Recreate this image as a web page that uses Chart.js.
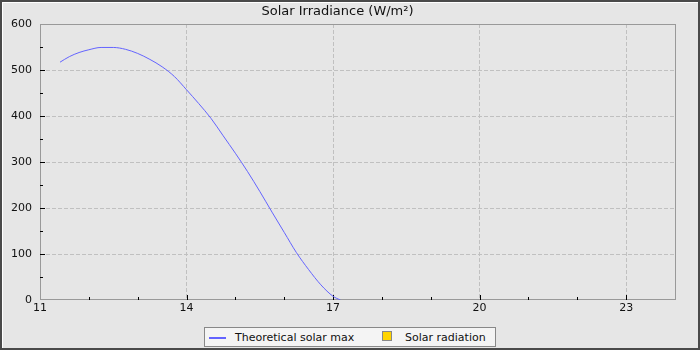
<!DOCTYPE html>
<html>
<head>
<meta charset="utf-8">
<script src="https://cdn.jsdelivr.net/npm/chart.js@4"></script>
<style>
  html, body { margin: 0; padding: 0; background: #e6e6e6; }
  #wrap { position: relative; width: 700px; height: 350px; }
  #legend {
    position: absolute; left: 204px; top: 327px; width: 290px; height: 18px;
    background: #f4f4f4; border: 1px solid #888;
    font: 11px "DejaVu Sans", sans-serif; color: #111;
  }
  #legend span { position: absolute; }
</style>
</head>
<body>
<div id="wrap">
  <canvas id="chart" width="700" height="350"></canvas>
  <div id="legend"></div>
</div>
<script>
// hours of the day (decimal) and theoretical max irradiance in W/m²
const hours = [11.41, 11.6, 11.8, 12.0, 12.25, 12.5, 12.75, 13.0, 13.25, 13.5, 13.75, 14.0,
               14.25, 14.5, 14.75, 15.0, 15.25, 15.5, 15.75, 16.0, 16.25, 16.5, 16.75, 17.0, 17.15];
const theoreticalMax = [517, 529, 538, 544, 549, 549, 545, 536, 523, 507, 486, 457,
                        427, 395, 357, 319, 279, 236, 191, 147, 103, 66, 33, 8, 0];
const solarRadiation = []; // no measurements in this window

const xTickLabels = ['11', '14', '17', '20', '23'];

const lineColor = '#6464ff';
const barColor = '#ffd400';

const chartFrame = {
    id: 'chartFrame',
    beforeDraw(chart) {
        const ctx = chart.ctx;
        ctx.save();
        ctx.fillStyle = '#4a4a4a';
        ctx.fillRect(0, 0, chart.width, chart.height);
        ctx.fillStyle = '#ffffff';
        ctx.fillRect(2, 2, chart.width - 4, chart.height - 4);
        ctx.fillStyle = '#e6e6e6';
        ctx.fillRect(3, 3, chart.width - 5, chart.height - 5);
        ctx.restore();
    },
    beforeDatasetsDraw(chart) {
        const ctx = chart.ctx;
        const a = chart.chartArea;
        const xs = chart.scales.x, ys = chart.scales.y;
        ctx.save();
        // plot outline
        ctx.strokeStyle = '#999999';
        ctx.lineWidth = 1;
        ctx.strokeRect(a.left + 0.5, a.top + 0.5, a.right - a.left, a.bottom - a.top - 1);
        // tick marks point inward
        ctx.strokeStyle = '#000000';
        ctx.beginPath();
        xs.ticks.forEach(t => {
            if (t.value <= xs.min || t.value >= xs.max) return;
            const px = Math.round(xs.getPixelForValue(t.value)) + 0.5;
            const len = t.label ? 5 : 3;
            ctx.moveTo(px, a.bottom);
            ctx.lineTo(px, a.bottom - len);
        });
        ys.ticks.forEach(t => {
            if (t.value <= ys.min || t.value >= ys.max) return;
            const py = Math.round(ys.getPixelForValue(t.value)) + 0.5;
            const len = t.value % 100 === 0 ? 5 : 3;
            ctx.moveTo(a.left, py);
            ctx.lineTo(a.left + len, py);
        });
        ctx.stroke();
        ctx.restore();
    }
};

new Chart(document.getElementById('chart'), {
    data: {
        datasets: [{
            type: 'line',
            label: 'Theoretical solar max',
            data: hours.map((h, i) => ({ x: h, y: theoreticalMax[i] })),
            borderColor: lineColor,
            borderWidth: 1,
            pointRadius: 0,
            cubicInterpolationMode: 'monotone',
            fill: false
        }, {
            type: 'bar',
            label: 'Solar radiation',
            data: solarRadiation,
            backgroundColor: barColor,
            borderColor: '#888888',
            borderWidth: 1
        }]
    },
    options: {
        responsive: false,
        animation: false,
        layout: { padding: { right: 25 } },
        plugins: {
            legend: { display: false },
            tooltip: { enabled: false },
            title: {
                display: true,
                text: 'Solar Irradiance (W/m²)',
                color: '#111',
                font: { family: 'DejaVu Sans', size: 13, weight: 'normal' },
                padding: { top: 4, bottom: 4.4 }
            }
        },
        scales: {
            x: {
                type: 'linear',
                min: 11,
                max: 24,
                offset: false,
                afterFit: s => { s.height = 50; },
                ticks: {
                    stepSize: 1,
                    autoSkip: false,
                    maxRotation: 0,
                    padding: 2,
                    color: '#111',
                    font: { family: 'DejaVu Sans', size: 11 },
                    callback: v => xTickLabels.includes(String(v)) ? String(v) : ''
                },
                grid: {
                    offset: false,
                    drawTicks: false,
                    lineWidth: 1,
                    color: ctx => {
                        const v = ctx.tick && ctx.tick.value;
                        return xTickLabels.includes(String(v)) && v !== 11 ? '#c0c0c0' : 'transparent';
                    }
                },
                border: { display: false, dash: [4, 2] }
            },
            y: {
                min: 0,
                max: 600,
                afterFit: s => { s.width = 40; },
                ticks: {
                    stepSize: 50,
                    autoSkip: false,
                    padding: 8,
                    color: '#111',
                    font: { family: 'DejaVu Sans', size: 11 },
                    callback: v => v % 100 === 0 ? String(v) : ''
                },
                grid: {
                    drawTicks: false,
                    lineWidth: 1,
                    color: ctx => {
                        const v = ctx.tick && ctx.tick.value;
                        return v % 100 === 0 && v !== 0 && v !== 600 ? '#c0c0c0' : 'transparent';
                    }
                },
                border: { display: false, dash: [4, 2] }
            }
        }
    },
    plugins: [chartFrame]
});

// legend box under the plot
const legend = document.getElementById('legend');
legend.innerHTML =
    '<span style="left:4px;top:9px;width:17px;height:2px;background:' + lineColor + '"></span>' +
    '<span style="left:30px;top:3px">Theoretical solar max</span>' +
    '<span style="left:177px;top:3px;width:8px;height:8px;background:' + barColor + ';border:1px solid #888"></span>' +
    '<span style="left:200px;top:3px">Solar radiation</span>';
</script>
</body>
</html>
